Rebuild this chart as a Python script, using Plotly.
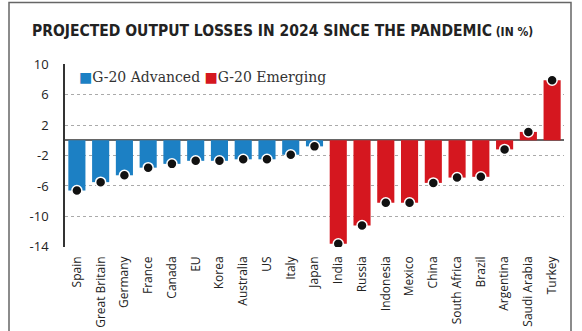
import plotly.graph_objects as go

adv_countries = ["Spain", "Great Britain", "Germany", "France", "Canada", "EU", "Korea",
                 "Australia", "US", "Italy", "Japan"]
adv_values = [-6.6, -5.5, -4.6, -3.6, -3.1, -2.7, -2.7, -2.5, -2.5, -1.9, -0.8]
emg_countries = ["India", "Russia", "Indonesia", "Mexico", "China", "South Africa", "Brazil",
                 "Argentina", "Saudi Arabia", "Turkey"]
emg_values = [-13.6, -11.2, -8.2, -8.2, -5.6, -4.9, -4.8, -1.2, 1.1, 7.9]
y_ticks = [10, 6, 2, -2, -6, -10, -14]

BLUE = "#1c80c4"
RED = "#d5171f"

all_countries = adv_countries + emg_countries

fig = go.Figure()
fig.add_trace(go.Bar(x=adv_countries, y=adv_values, marker_color=BLUE, marker_line_width=0,
                     name="G-20 Advanced", showlegend=False))
fig.add_trace(go.Bar(x=emg_countries, y=emg_values, marker_color=RED, marker_line_width=0,
                     name="G-20 Emerging", showlegend=False))
fig.add_trace(go.Scatter(x=all_countries, y=adv_values + emg_values,
                         mode="markers", showlegend=False,
                         marker=dict(color="#111", size=10, line=dict(color="white", width=1.5))))

W, H = 582, 331
ml, mr, mt, mb = 65, 18, 64, 84
pw, ph = W - ml - mr, H - mt - mb

def px_x(x):
    return (x - ml) / pw

def px_y(y):
    return 1 - (y - mt) / ph

fig.update_layout(
    width=W, height=H,
    margin=dict(l=ml, r=mr, t=mt, b=mb, pad=0, autoexpand=False),
    paper_bgcolor="white", plot_bgcolor="white",
    barmode="overlay", bargap=0.28,
    xaxis=dict(type="category", categoryorder="array", categoryarray=all_countries,
               range=[-0.5, len(all_countries) - 0.5], automargin=False,
               tickangle=-90, showgrid=False, ticks="",
               tickfont=dict(family="Open Sans", size=12, color="#222"),
               ticklabelstandoff=6, showline=False, zeroline=False),
    yaxis=dict(range=[-14.02, 10.02], tickvals=y_ticks, ticktext=[str(v) for v in y_ticks],
               automargin=False,
               showgrid=True, gridcolor="#aaa", griddash="dot", gridwidth=1,
               zeroline=True, zerolinecolor="#666", zerolinewidth=1.5,
               showline=True, linecolor="#333", linewidth=1.5, ticks="",
               tickfont=dict(family="Open Sans", size=13, color="#222"),
               ticklabelstandoff=12),
    font=dict(family="Open Sans"),
)

fig.add_annotation(
    xref="paper", yref="paper", x=px_x(30), y=px_y(31), xanchor="left", yanchor="middle",
    showarrow=False,
    text="<span style='font-stretch:condensed'><b>PROJECTED OUTPUT LOSSES IN 2024 SINCE THE PANDEMIC</b>"
         "<span style='font-size:12px'><b> (IN %)</b></span></span>",
    font=dict(family="DejaVu Sans Condensed, DejaVu Sans", size=15.5, color="#222"),
)

fig.add_annotation(
    xref="paper", yref="paper", x=px_x(77), y=px_y(77), xanchor="left", yanchor="middle",
    showarrow=False,
    text=f"<span style='color:{BLUE}'>■</span>G-20 Advanced "
         f"<span style='color:{RED}'>■</span>G-20 Emerging",
    font=dict(family="DejaVu Serif", size=14, color="#333"),
)

fig.add_shape(type="rect", xref="paper", yref="paper",
              x0=px_x(9), x1=px_x(571), y0=px_y(2.5), y1=px_y(345),
              line=dict(color="#666", width=1.5), fillcolor="rgba(0,0,0,0)", layer="below")

fig.write_html("out.html")
